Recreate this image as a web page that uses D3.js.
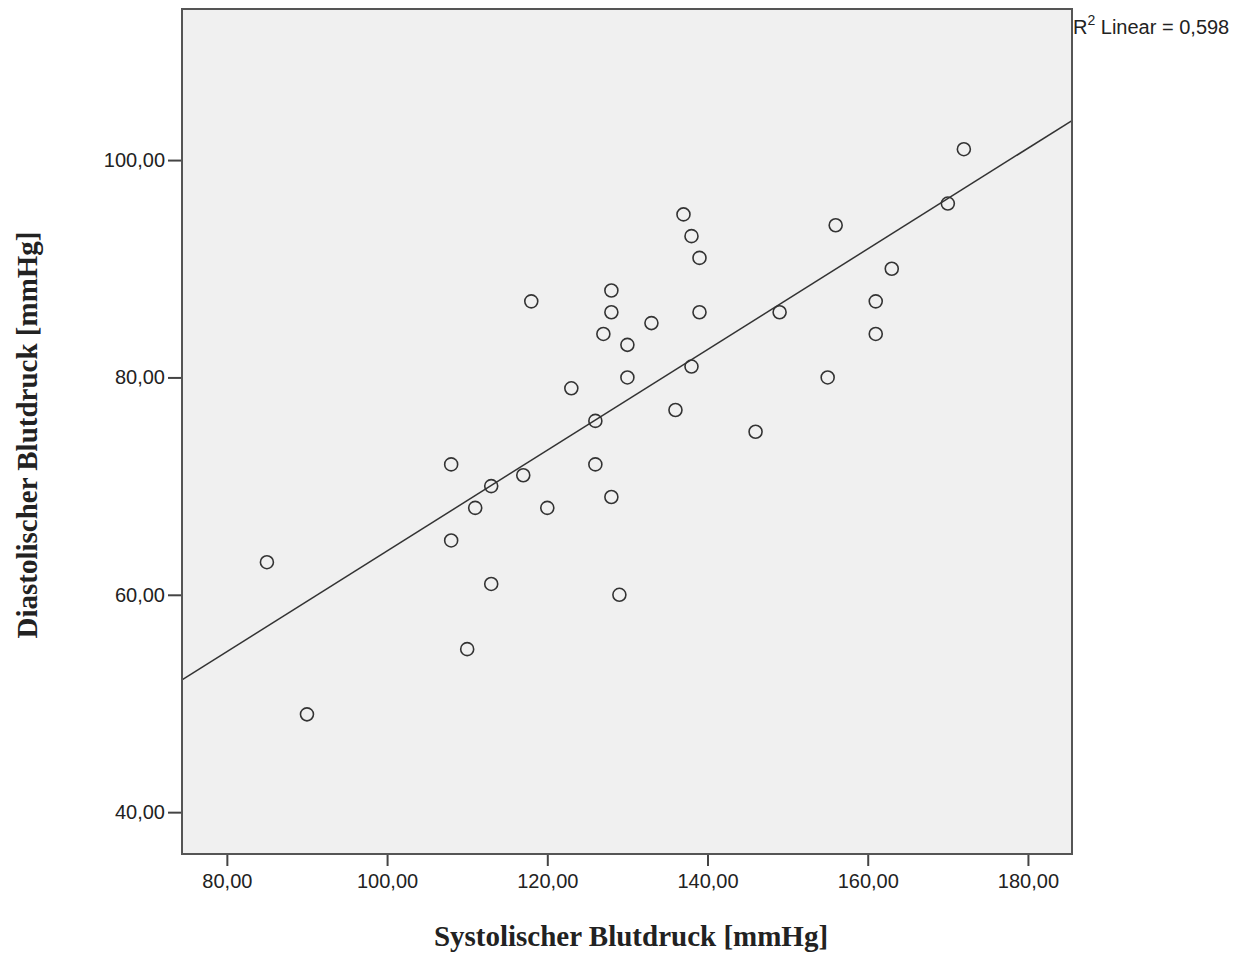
<!DOCTYPE html>
<html>
<head>
<meta charset="utf-8">
<script src="https://cdn.jsdelivr.net/npm/d3@7"></script>
<style>
  body { margin: 0; background: #fff; }
  svg text { fill: #222; }
</style>
</head>
<body>
<svg id="chart" width="1243" height="977"></svg>
<script>
var chartWidth = 1243
var chartHeight = 977

// systolic / diastolic pairs
var systolic = [85, 90, 108, 108, 110, 111, 113, 113, 117, 118, 120, 123, 126, 126, 127, 128, 128, 128, 129,
                130, 130, 133, 136, 137, 138, 138, 139, 139, 146, 149, 155, 156, 161, 161, 163, 170, 172];
var diastolic = [63, 49, 72, 65, 55, 68, 70, 61, 71, 87, 68, 79, 76, 72, 84, 88, 86, 69, 60,
                 83, 80, 85, 77, 95, 93, 81, 91, 86, 75, 86, 80, 94, 87, 84, 90, 96, 101];
var xTicks = [80, 100, 120, 140, 160, 180];
var yTicks = [40, 60, 80, 100];
var xDomain = [74.4, 185.5];
var yDomain = [36.15, 113.9];
var r2Label = "0,598";

var plot = {left: 182, right: 1072, top: 9, bottom: 854};

var svg = d3.select('#chart');

var x = d3.scaleLinear().domain(xDomain).range([plot.left, plot.right]);
var y = d3.scaleLinear().domain(yDomain).range([plot.bottom, plot.top]);

var fmt = function(d) { return d3.format(".2f")(d).replace(".", ","); };

// plot background
svg.append("rect")
    .attr("x", plot.left)
    .attr("y", plot.top)
    .attr("width", plot.right - plot.left)
    .attr("height", plot.bottom - plot.top)
    .attr("fill", "#f0f0f0");

// fit line (least squares)
var points = systolic.map(function(s, i) { return {x: s, y: diastolic[i]}; });
var mx = d3.mean(systolic), my = d3.mean(diastolic);
var sxy = d3.sum(points, function(d) { return (d.x - mx) * (d.y - my); });
var sxx = d3.sum(points, function(d) { return (d.x - mx) * (d.x - mx); });
var slope = sxy / sxx;
var icpt = my - slope * mx;

svg.append("line")
    .attr("x1", x(xDomain[0]))
    .attr("y1", y(icpt + slope * xDomain[0]))
    .attr("x2", x(xDomain[1]))
    .attr("y2", y(icpt + slope * xDomain[1]))
    .attr("stroke", "#333")
    .attr("stroke-width", 1.5);

// points
svg.selectAll("circle")
    .data(points)
    .enter().append("circle")
        .attr("cx", function(d) { return x(d.x); })
        .attr("cy", function(d) { return y(d.y); })
        .attr("r", 6.5)
        .attr("fill", "none")
        .attr("stroke", "#333")
        .attr("stroke-width", 1.6);

// axes
var xAxis = svg.append("g")
    .attr("transform", "translate(0," + plot.bottom + ")")
    .call(d3.axisBottom(x).tickValues(xTicks).tickFormat(fmt).tickSize(12).tickPadding(8));
var yAxis = svg.append("g")
    .attr("transform", "translate(" + plot.left + ",0)")
    .call(d3.axisLeft(y).tickValues(yTicks).tickFormat(fmt).tickSize(14).tickPadding(3));

[xAxis, yAxis].forEach(function(a) {
    a.select(".domain").remove();
    a.selectAll("line").attr("stroke", "#444").attr("stroke-width", 2);
    a.selectAll("text")
        .attr("font-family", "Liberation Sans, Arial, sans-serif")
        .attr("font-size", 20)
        .attr("fill", "#222");
});

// frame
svg.append("rect")
    .attr("x", plot.left)
    .attr("y", plot.top)
    .attr("width", plot.right - plot.left)
    .attr("height", plot.bottom - plot.top)
    .attr("fill", "none")
    .attr("stroke", "#555")
    .attr("stroke-width", 2);

// R2 label
var r2 = svg.append("text")
    .attr("x", plot.right + 1)
    .attr("y", 34)
    .attr("font-family", "Liberation Sans, Arial, sans-serif")
    .attr("font-size", 20);
r2.append("tspan").text("R");
r2.append("tspan").attr("dy", -9).attr("font-size", 14).text("2");
r2.append("tspan").attr("dy", 9).text(" Linear = " + r2Label);

// axis titles
svg.append("text")
    .attr("x", 631)
    .attr("y", 946)
    .attr("text-anchor", "middle")
    .attr("font-family", "Liberation Serif, Times New Roman, serif")
    .attr("font-weight", "bold")
    .attr("font-size", 29)
    .text("Systolischer Blutdruck [mmHg]");

svg.append("text")
    .attr("transform", "translate(37,435) rotate(-90)")
    .attr("text-anchor", "middle")
    .attr("font-family", "Liberation Serif, Times New Roman, serif")
    .attr("font-weight", "bold")
    .attr("font-size", 29)
    .text("Diastolischer Blutdruck [mmHg]");
</script>
</body>
</html>
